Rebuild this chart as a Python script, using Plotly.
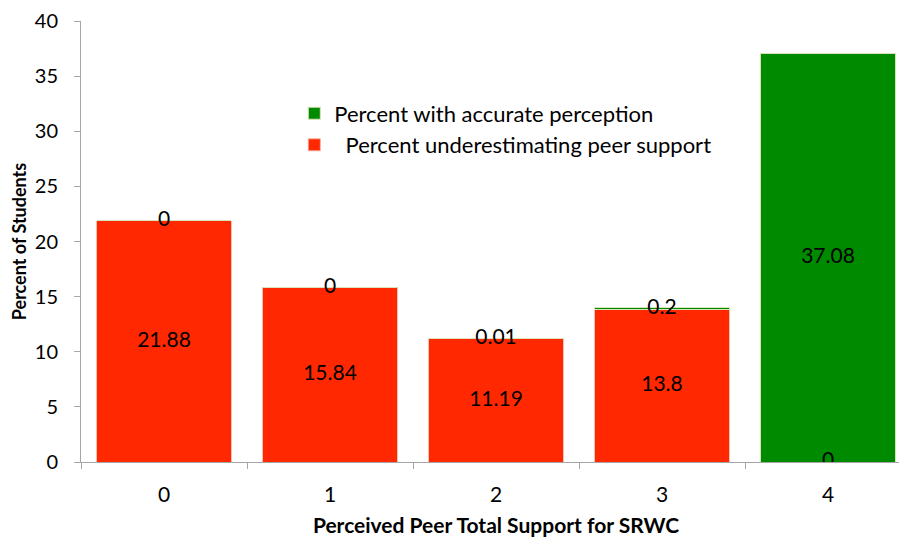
import plotly.graph_objects as go

categories = ["0", "1", "2", "3", "4"]
under_vals = [21.88, 15.84, 11.19, 13.8, 0]
accurate_vals = [0, 0, 0.01, 0.2, 37.08]
y_ticks = [0, 5, 10, 15, 20, 25, 30, 35, 40]

RED = "#FF2800"
GREEN = "#008A00"
FONT = "Lato"

fig = go.Figure()
fig.add_trace(go.Bar(
    x=categories, y=under_vals, name="  Percent underestimating peer support",
    marker=dict(color=RED, line=dict(color="#F0B0A0", width=0.8)),
    width=0.81,
))
fig.add_trace(go.Bar(
    x=categories, y=accurate_vals, name="Percent with accurate perception",
    marker=dict(color=GREEN, line=dict(color="#D8E4B8", width=1)),
    width=0.81,
))

# value labels at segment centres
under_mid = [v / 2 for v in under_vals]
acc_mid = [u + a / 2 for u, a in zip(under_vals, accurate_vals)]
fig.add_trace(go.Scatter(
    x=categories, y=under_mid, mode="text",
    text=[f"{v:g}" for v in under_vals], showlegend=False, hoverinfo="skip",
    textfont=dict(family=FONT, size=21, color="black"),
))
fig.add_trace(go.Scatter(
    x=categories, y=acc_mid, mode="text",
    text=[f"{v:g}" for v in accurate_vals], showlegend=False, hoverinfo="skip",
    textfont=dict(family=FONT, size=21, color="black"),
))

fig.update_layout(
    width=907, height=543,
    margin=dict(l=73, r=4, t=13, b=89),
    barmode="stack",
    bargap=0.19,
    plot_bgcolor="white", paper_bgcolor="white",
    font=dict(family=FONT, size=21, color="black"),
    legend=dict(
        x=0.257, y=0.838, xanchor="left", yanchor="top",
        traceorder="reversed", bgcolor="rgba(0,0,0,0)",
        font=dict(family=FONT, size=22, color="black"),
        tracegroupgap=0,
    ),
    xaxis=dict(
        type="category", categoryorder="array", categoryarray=categories,
        showline=True, linecolor="#A6A6A6", linewidth=1,
        ticks="outside", tickson="boundaries", ticklen=6, tickcolor="#A6A6A6",
        ticklabelstandoff=14, ticklabeloverflow="allow",
        showgrid=False, zeroline=False, automargin=False,
        tickfont=dict(family=FONT, size=21),
        title=dict(text="<b>Perceived Peer Total Support for SRWC</b>",
                   font=dict(family=FONT, size=21), standoff=13),
    ),
    yaxis=dict(
        range=[0, 40], tickvals=y_ticks,
        showline=True, linecolor="#A6A6A6", linewidth=1,
        ticks="outside", ticklen=6, tickcolor="#A6A6A6",
        ticklabelstandoff=12, ticklabeloverflow="allow",
        showgrid=False, zeroline=False, automargin=False,
        tickfont=dict(family=FONT, size=20),
        title=dict(text="<b>Percent of Students</b>",
                   font=dict(family=FONT, size=18), standoff=3),
    ),
)

fig.write_html("out.html")
